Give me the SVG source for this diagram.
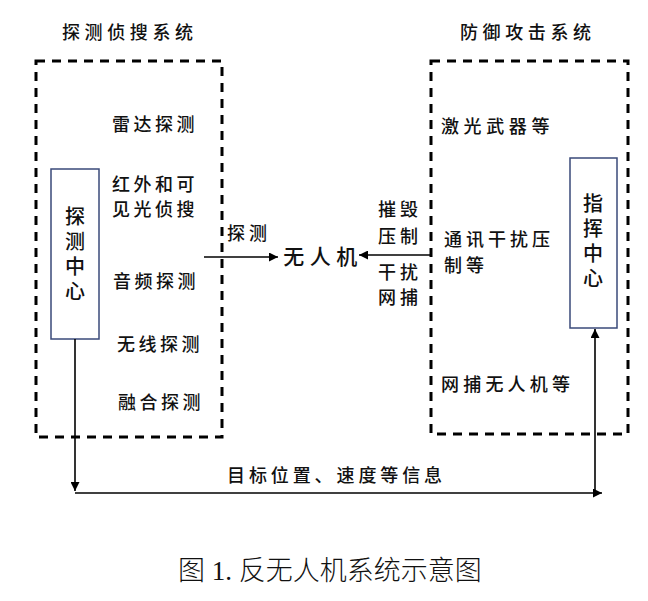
<svg xmlns="http://www.w3.org/2000/svg" width="648" height="601" viewBox="0 0 648 601">
<defs>
<marker id="ah" viewBox="0 0 10 10" refX="10" refY="5" markerWidth="9" markerHeight="9" markerUnits="userSpaceOnUse" orient="auto"><path d="M0,0 L10,5 L0,10 z" fill="#000"/></marker>
<style>
.t{font-family:"Noto Sans CJK SC","Liberation Sans",sans-serif;font-size:18px;font-weight:500;fill:#111;letter-spacing:4px;}
.c{font-family:"Noto Sans CJK SC","Liberation Sans",sans-serif;font-size:20px;font-weight:500;fill:#111;}
.v{writing-mode:vertical-rl;letter-spacing:5px;}
.dash{fill:none;stroke:#000;stroke-width:3;stroke-dasharray:9 7;}
.ctr{fill:#fff;stroke:#3a4a7a;stroke-width:1.5;}
.ln{fill:none;stroke:#000;stroke-width:1.6;}
.cap{font-family:"Liberation Serif","Noto Sans CJK SC",serif;font-size:27px;fill:#111;font-weight:300;}
</style>
</defs>
<rect width="648" height="601" fill="#fff"/>
<g id="detect-system">
<text class="t" x="62" y="39" style="letter-spacing:4.6px">探测侦搜系统</text>
<rect class="dash" x="36" y="61" width="186" height="376"/>
<text class="t" x="112" y="131" style="letter-spacing:3.5px">雷达探测</text>
<text class="t" style="letter-spacing:3.5px"><tspan x="112" y="191">红外和可</tspan><tspan x="112" y="216">见光侦搜</tspan></text>
<text class="t" x="113" y="288" style="letter-spacing:3.5px">音频探测</text>
<text class="t" x="117" y="351" style="letter-spacing:3.5px">无线探测</text>
<text class="t" x="118" y="409" style="letter-spacing:3.5px">融合探测</text>
</g>
<g id="detect-center">
<rect class="ctr" x="51" y="169" width="48" height="170"/>
<text class="c v" x="75" y="206">探测中心</text>
</g>
<g id="defense-system">
<text class="t" x="460" y="39" style="letter-spacing:4.6px">防御攻击系统</text>
<rect class="dash" x="431" y="61" width="197" height="373"/>
<text class="t" x="441" y="133" style="letter-spacing:4.6px">激光武器等</text>
<text class="t"><tspan x="444" y="246">通讯干扰压</tspan><tspan x="444" y="272">制等</tspan></text>
<text class="t" x="441" y="391" style="letter-spacing:4.2px">网捕无人机等</text>
</g>
<g id="command-center">
<rect class="ctr" x="570" y="158" width="47" height="170"/>
<text class="c v" x="593" y="193">指挥中心</text>
</g>
<g id="uav">
<text class="c" x="323" y="264" style="font-size:21px;letter-spacing:5.5px;text-anchor:middle">无人机</text>
</g>
<g id="connectors">
<line class="ln" x1="204" y1="257" x2="278" y2="257" marker-end="url(#ah)"/>
<line class="ln" x1="431" y1="255" x2="359" y2="255" marker-end="url(#ah)"/>
<polyline class="ln" points="75,339 75,491" marker-end="url(#ah)"/>
<polyline class="ln" points="75,493 602,493" marker-end="url(#ah)"/>
<polyline class="ln" points="595,493 595,329" marker-end="url(#ah)"/>
<text class="t" x="227" y="240">探测</text>
<text class="t"><tspan x="378" y="216">摧毁</tspan><tspan x="378" y="243">压制</tspan></text>
<text class="t"><tspan x="378" y="279">干扰</tspan><tspan x="378" y="304">网捕</tspan></text>
<text class="t" x="227" y="482" style="letter-spacing:3.9px">目标位置、速度等信息</text>
</g>
<text class="cap" x="178" y="580">图 1. 反无人机系统示意图</text>
</svg>
